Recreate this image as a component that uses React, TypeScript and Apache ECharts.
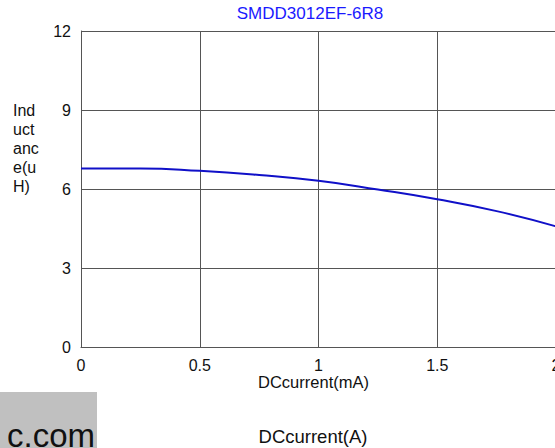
import React, { useEffect, useRef } from "react";
import * as echarts from "echarts";

const titleText = "SMDD3012EF-6R8";
const xValues = [0, 0.25, 0.5, 0.75, 1, 1.25, 1.5, 1.75, 2];
const inductance = [6.78, 6.78, 6.69, 6.53, 6.31, 5.98, 5.61, 5.16, 4.58];
const yAxisName = ["Ind", "uct", "anc", "e(u", "H)"];
const xAxisName = "DCcurrent(mA)";
const bottomLabel = "DCcurrent(A)";
const watermark = "c.com";

const FONT = "Arial, 'Liberation Sans', sans-serif";

export default function App() {
  const ref = useRef<HTMLDivElement>(null);
  useEffect(() => {
    if (!ref.current) return;
    const chart = echarts.init(ref.current, undefined, { renderer: "svg" });
    const data = xValues.map((x, i) => [x, inductance[i]]);
    chart.setOption({
      animation: false,
      backgroundColor: "#ffffff",
      textStyle: { fontFamily: FONT },
      grid: { left: 81, top: 31, width: 475, height: 316, containLabel: false },
      xAxis: {
        type: "value",
        min: 0,
        max: 2,
        interval: 0.5,
        axisLine: { show: true, lineStyle: { color: "#555", width: 1 } },
        axisTick: { show: false },
        splitLine: { show: true, lineStyle: { color: "#555", width: 1 } },
        axisLabel: { color: "#111", fontSize: 16, margin: 10, fontFamily: FONT },
      },
      yAxis: {
        type: "value",
        min: 0,
        max: 12,
        interval: 3,
        axisLine: { show: true, lineStyle: { color: "#555", width: 1 } },
        axisTick: { show: false },
        splitLine: { show: true, lineStyle: { color: "#555", width: 1 } },
        axisLabel: { color: "#111", fontSize: 16, margin: 10, fontFamily: FONT },
      },
      series: [
        {
          type: "line",
          data,
          smooth: true,
          showSymbol: false,
          lineStyle: { color: "#1010c8", width: 2 },
        },
      ],
      graphic: [
        {
          type: "text",
          x: 310,
          y: 13.5,
          style: {
            text: titleText,
            fill: "#1a1aff",
            font: `17px ${FONT}`,
            align: "center",
            verticalAlign: "middle",
          },
        },
        {
          type: "text",
          x: 13,
          y: 101,
          style: {
            text: yAxisName.join("\n"),
            fill: "#111",
            font: `16px ${FONT}`,
            lineHeight: 19,
            align: "left",
            verticalAlign: "top",
          },
        },
        {
          type: "text",
          x: 313.5,
          y: 382,
          style: {
            text: xAxisName,
            fill: "#111",
            font: `16.5px ${FONT}`,
            align: "center",
            verticalAlign: "middle",
          },
        },
        {
          type: "rect",
          shape: { x: 0, y: 392, width: 97, height: 56 },
          style: { fill: "#c0c0c0" },
        },
        {
          type: "text",
          x: 95,
          y: 435.5,
          style: {
            text: watermark,
            fill: "#111",
            font: `33px ${FONT}`,
            align: "right",
            verticalAlign: "middle",
          },
        },
        {
          type: "text",
          x: 313,
          y: 436,
          style: {
            text: bottomLabel,
            fill: "#111",
            font: `18.5px ${FONT}`,
            align: "center",
            verticalAlign: "middle",
          },
        },
      ],
    });
    return () => chart.dispose();
  }, []);
  return (
    <div
      ref={ref}
      style={{ position: "fixed", left: 0, top: 0, width: 600, height: 448 }}
    />
  );
}
